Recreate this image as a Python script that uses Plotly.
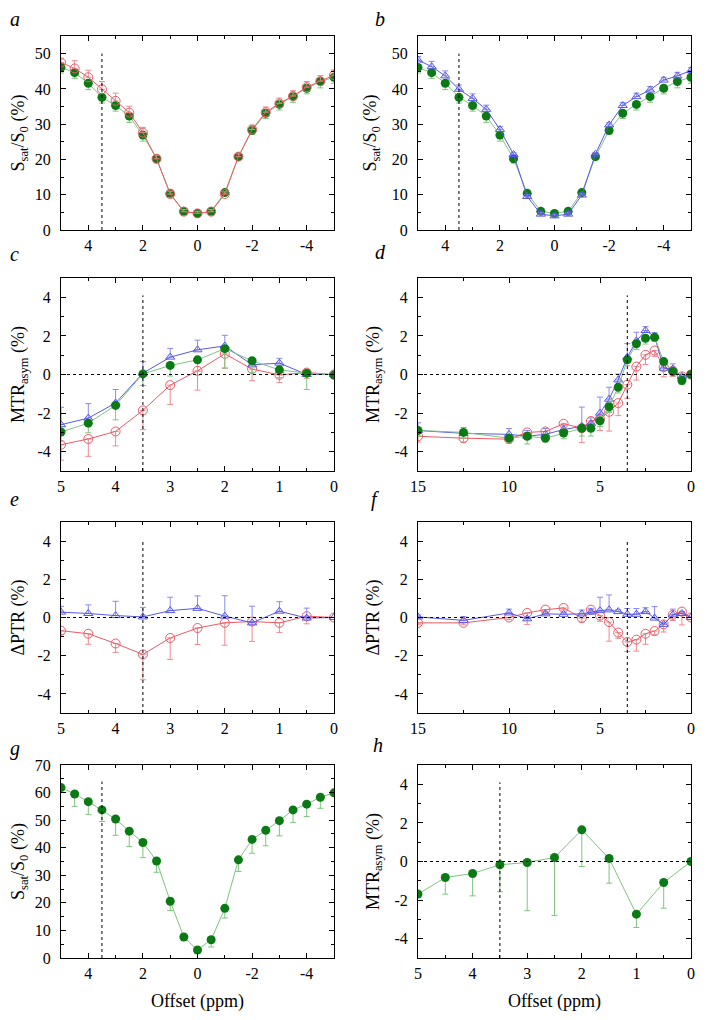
import plotly.graph_objects as go

# ---------------- data ----------------
OFFSET_Z = [5, 4.5, 4, 3.5, 3, 2.5, 2, 1.5, 1, 0.5, 0, -0.5, -1, -1.5, -2, -2.5, -3, -3.5, -4, -4.5, -5]
OFFSET_5 = [5, 4.5, 4, 3.5, 3, 2.5, 2, 1.5, 1, 0.5, 0]
OFFSET_15 = [15, 12.5, 10, 9, 8, 7, 6, 5.5, 5, 4.5, 4, 3.5, 3, 2.5, 2, 1.5, 1, 0.5, 0]

# panel a/b : Z-spectra (%)
z_green = [46.1, 44.6, 41.6, 37.6, 35.3, 32.3, 26.9, 20.2, 10.4, 5.3, 4.7, 5.3, 10.6, 20.8, 28.2, 33.1, 35.6, 37.8, 40.2, 42.1, 43.3]
z_green_err = [1.6, 1.6, 1.8, 1.6, 1.6, 1.8, 1.7, 1.2, 0.9, 0.8, 1.0, 1.0, 0.8, 0.8, 1.0, 1.5, 1.6, 1.6, 1.6, 1.8, 1.7]
z_red = [47.5, 45.8, 43.3, 39.9, 36.6, 33.3, 27.6, 20.2, 10.2, 5.2, 4.7, 5.2, 10.2, 20.8, 28.5, 33.4, 35.9, 38.0, 40.5, 42.2, 43.9]
z_red_err = [1.0, 2.2, 2.0, 2.2, 2.2, 1.8, 1.5, 1.0, 0.8, 0.6, 0.6, 0.6, 0.6, 0.8, 1.2, 1.5, 1.5, 1.5, 1.6, 1.6, 1.5]
z_blue = [48.2, 46.3, 43.7, 39.9, 37.3, 34.2, 28.5, 21.4, 9.5, 4.5, 4.0, 4.5, 9.9, 21.5, 29.8, 35.3, 37.8, 39.7, 42.5, 43.7, 45.2]
z_blue_err = [1.0, 1.5, 1.4, 1.2, 1.3, 1.2, 0.8, 0.5, 0.5, 0.5, 0.5, 0.5, 0.5, 0.5, 0.6, 0.8, 1.0, 1.0, 0.8, 1.0, 0.8]

# panel c : MTRasym 0-5 ppm
c_blue = [-2.6, -2.26, -1.48, 0.07, 0.9, 1.28, 1.48, 0.5, 0.59, 0.0, 0.0]
c_blue_err = [0.9, 0.75, 0.7, 0.6, 0.45, 0.5, 0.55, 0.3, 0.25, 0.1, 0.0]
c_green = [-2.98, -2.52, -1.6, 0.03, 0.47, 0.76, 1.34, 0.71, 0.24, 0.07, -0.03]
c_green_err = [0.5, 0.5, 0.75, 0.6, 0.55, 0.6, 1.0, 0.6, 0.4, 0.85, 0.0]
c_red = [-3.64, -3.34, -2.95, -1.86, -0.55, 0.19, 1.07, 0.28, -0.02, 0.1, 0.0]
c_red_err = [0.8, 0.9, 0.75, 1.0, 1.0, 1.0, 0.75, 0.6, 0.4, 0.3, 0.0]

# panel d : MTRasym 0-15 ppm
d_green = [-2.9, -3.0, -3.3, -3.2, -3.3, -3.03, -2.79, -2.79, -2.4, -1.67, -0.66, 0.76, 1.59, 1.88, 1.93, 0.67, 0.16, -0.31, 0.0]
d_green_err = [0.3, 0.3, 0.2, 0.4, 0.2, 0.3, 0.4, 0.4, 0.3, 0.3, 0.3, 0.3, 0.3, 0.3, 0.2, 0.2, 0.2, 0.2, 0.0]
d_blue = [-2.9, -3.05, -3.1, -3.2, -3.1, -2.85, -2.69, -2.55, -2.0, -1.28, -0.28, 0.9, 1.74, 2.28, 1.97, 0.33, 0.28, -0.1, 0.0]
d_blue_err = [0.4, 0.3, 0.3, 0.3, 0.3, 0.2, 1.0, 0.3, 0.83, 0.62, 0.3, 0.7, 0.45, 0.2, 0.2, 0.2, 0.27, 0.1, 0.0]
d_red = [-3.2, -3.3, -3.35, -3.0, -2.95, -2.55, -2.78, -2.41, -2.3, -1.93, -1.48, -0.53, 0.41, 1.02, 1.24, 0.38, 0.2, -0.1, 0.0]
d_red_err = [0.3, 0.2, 0.2, 0.3, 0.3, 0.3, 0.75, 0.5, 0.6, 1.0, 0.65, 0.7, 0.7, 0.5, 0.3, 0.5, 0.3, 0.3, 0.0]

# panel e : delta PTR 0-5 ppm
e_blue = [0.28, 0.21, 0.1, 0.03, 0.36, 0.48, 0.07, -0.28, 0.33, -0.03, 0.0]
e_blue_err = [0.3, 0.45, 0.75, 0.5, 0.7, 0.65, 1.07, 0.87, 0.5, 0.52, 0.0]
e_red = [-0.69, -0.85, -1.36, -1.93, -1.07, -0.55, -0.28, -0.21, -0.28, 0.07, 0.0]
e_red_err = [0.2, 0.55, 0.47, 1.33, 1.12, 0.86, 1.17, 1.04, 0.5, 0.4, 0.0]

# panel f : delta PTR 0-15 ppm
f_blue = [0.03, -0.15, 0.24, -0.07, 0.19, 0.17, 0.19, 0.28, 0.36, 0.4, 0.31, 0.17, 0.17, 0.31, -0.03, -0.36, 0.14, 0.21, 0.0]
f_blue_err = [0.1, 0.2, 0.2, 0.1, 0.1, 0.1, 0.2, 0.2, 0.7, 0.78, 0.1, 0.3, 0.3, 0.2, 0.6, 0.1, 0.3, 0.1, 0.0]
f_red = [-0.28, -0.28, 0.0, 0.24, 0.41, 0.5, -0.03, 0.41, 0.1, -0.24, -0.79, -1.28, -1.16, -0.85, -0.71, -0.36, 0.14, 0.31, 0.0]
f_red_err = [0.1, 0.1, 0.1, 0.6, 0.1, 0.1, 0.2, 0.2, 0.3, 1.0, 0.3, 0.5, 0.6, 0.55, 0.2, 0.4, 0.3, 0.7, 0.0]

# panel g : Z-spectrum (single group)
g_green = [61.8, 59.5, 56.7, 53.7, 50.4, 46.0, 41.9, 35.2, 20.6, 7.6, 2.9, 6.6, 18.0, 35.6, 43.0, 46.3, 49.8, 53.7, 55.8, 58.3, 59.9]
g_green_err = [0.0, 4.5, 4.6, 4.2, 5.9, 5.6, 5.5, 4.1, 3.4, 1.2, 0.5, 2.6, 3.5, 4.2, 5.0, 5.6, 5.5, 4.6, 4.5, 4.0, 0.0]

# panel h : MTRasym (single group)
h_green = [-1.69, -0.83, -0.62, -0.17, -0.05, 0.21, 1.64, 0.16, -2.73, -1.09, 0.0]
h_green_err = [0.0, 0.86, 1.16, 1.4, 2.5, 3.0, 1.9, 1.28, 0.69, 1.33, 0.0]

TICKS_Z = [4, 2, 0, -2, -4]
TICKS_Z_TEXT = ["4", "2", "0", "-2", "-4"]
TICKS_MTR = [4, 2, 0, -2, -4]
TICKS_MTR_TEXT = ["4", "2", "0", "-2", "-4"]
MARK_PPM = 3.5
PANEL_LETTERS = ["a", "b", "c", "d", "e", "f", "g", "h"]

# ---------------- styles ----------------
PAGE_W, PAGE_H = 706, 1020
BODY = 8  # default page body margin of the html page
W, H = PAGE_W - 2 * BODY, PAGE_H - 2 * BODY
FONT = "Liberation Serif, Times New Roman, serif"
RED = "#ec5a66"
BLUE = "#5858e8"
GREEN_M = "#0b7a14"
GREEN_L = "#80c480"
RED_L = "#f08a92"
BLUE_L = "#8a8aee"

# panel boxes in page pixels: (left, right, top, bottom)
BOX = [
    (61, 334, 36, 230), (418, 691, 36, 230),
    (61, 334, 278, 471), (418, 691, 278, 471),
    (61, 334, 522, 713), (418, 691, 522, 713),
    (61, 334, 765, 958), (418, 691, 765, 958),
]
# panel letter anchor (centre x, bottom y) in page pixels
LETTER_POS = [(15, 31), (380, 31), (15, 266), (380, 264), (15, 511), (375, 512), (15, 761), (378, 757)]


def fx(px):
    return (px - BODY) / W


def fy(py):
    return 1 - (py - BODY) / H


fig = go.Figure()


def add_series(i, x, y, err, kind, up):
    xa = "x" if i == 0 else f"x{i+1}"
    ya = "y" if i == 0 else f"y{i+1}"
    if kind == "green":
        marker = dict(symbol="circle", size=9, color=GREEN_M, line=dict(width=0))
        lc, ec = GREEN_L, GREEN_L
    elif kind == "red":
        marker = dict(symbol="circle-open", size=9, color=RED, line=dict(width=1))
        lc, ec = RED, RED_L
    else:
        marker = dict(symbol="triangle-up-open", size=8, color=BLUE, line=dict(width=1))
        lc, ec = BLUE, BLUE_L
    zeros = [0] * len(err)
    fig.add_trace(go.Scatter(
        x=x, y=y, mode="lines+markers", xaxis=xa, yaxis=ya,
        line=dict(color=lc, width=1), marker=marker, showlegend=False,
        error_y=dict(type="data", symmetric=False,
                     array=err if up else zeros,
                     arrayminus=zeros if up else err,
                     color=ec, thickness=1, width=3),
    ))


# a
add_series(0, OFFSET_Z, z_green, z_green_err, "green", False)
add_series(0, OFFSET_Z, z_red, z_red_err, "red", True)
# b
add_series(1, OFFSET_Z, z_green, z_green_err, "green", False)
add_series(1, OFFSET_Z, z_blue, z_blue_err, "blue", True)
# c
add_series(2, OFFSET_5, c_red, c_red_err, "red", False)
add_series(2, OFFSET_5, c_blue, c_blue_err, "blue", True)
add_series(2, OFFSET_5, c_green, c_green_err, "green", False)
# d
add_series(3, OFFSET_15, d_red, d_red_err, "red", False)
add_series(3, OFFSET_15, d_blue, d_blue_err, "blue", True)
add_series(3, OFFSET_15, d_green, d_green_err, "green", False)
# e
add_series(4, OFFSET_5, e_red, e_red_err, "red", False)
add_series(4, OFFSET_5, e_blue, e_blue_err, "blue", True)
# f
add_series(5, OFFSET_15, f_red, f_red_err, "red", False)
add_series(5, OFFSET_15, f_blue, f_blue_err, "blue", True)
# g
add_series(6, OFFSET_Z, g_green, g_green_err, "green", False)
# h
add_series(7, OFFSET_5, h_green, h_green_err, "green", False)

tickfont = dict(family=FONT, size=16, color="black")
titlefont = dict(family=FONT, size=18, color="black")

YT_Z = "S<sub>sat</sub>/S<sub>0</sub> (%)"
YT_MTR = "MTR<sub>asym</sub> (%)"
YT_PTR = "ΔPTR (%)"

xcfg = [
    dict(range=[5, -5], tickvals=TICKS_Z, ticktext=TICKS_Z_TEXT, minor_dtick=1),
    dict(range=[5, -5], tickvals=TICKS_Z, ticktext=TICKS_Z_TEXT, minor_dtick=1),
    dict(range=[5, 0], dtick=1, minor_dtick=0.5),
    dict(range=[15, 0], dtick=5, minor_dtick=2.5),
    dict(range=[5, 0], dtick=1, minor_dtick=0.5),
    dict(range=[15, 0], dtick=5, minor_dtick=2.5),
    dict(range=[5, -5], tickvals=TICKS_Z, ticktext=TICKS_Z_TEXT, minor_dtick=1),
    dict(range=[5, 0], dtick=1, minor_dtick=0.5),
]
ycfg = [
    dict(range=[0, 55], dtick=10, minor_dtick=5, title=YT_Z),
    dict(range=[0, 55], dtick=10, minor_dtick=5, title=YT_Z),
    dict(range=[-5, 5], tickvals=TICKS_MTR, ticktext=TICKS_MTR_TEXT, minor_dtick=1, title=YT_MTR),
    dict(range=[-5, 5], tickvals=TICKS_MTR, ticktext=TICKS_MTR_TEXT, minor_dtick=1, title=YT_MTR),
    dict(range=[-5, 5], tickvals=TICKS_MTR, ticktext=TICKS_MTR_TEXT, minor_dtick=1, title=YT_PTR),
    dict(range=[-5, 5], tickvals=TICKS_MTR, ticktext=TICKS_MTR_TEXT, minor_dtick=1, title=YT_PTR),
    dict(range=[0, 70], dtick=10, minor_dtick=5, title=YT_Z),
    dict(range=[-5, 5], tickvals=TICKS_MTR, ticktext=TICKS_MTR_TEXT, minor_dtick=1, title=YT_MTR),
]

layout = dict(
    width=W, height=H, paper_bgcolor="white", plot_bgcolor="white",
    margin=dict(l=0, r=0, t=0, b=0, autoexpand=False), showlegend=False,
    font=dict(family=FONT, color="black"),
)

for i, (l, r, t, b) in enumerate(BOX):
    xname = "xaxis" if i == 0 else f"xaxis{i+1}"
    yname = "yaxis" if i == 0 else f"yaxis{i+1}"
    xa_ref = "x" if i == 0 else f"x{i+1}"
    ya_ref = "y" if i == 0 else f"y{i+1}"
    xc = xcfg[i]
    yc = ycfg[i]
    xax = dict(
        domain=[fx(l), fx(r)], anchor=ya_ref, range=xc["range"], automargin=False,
        showline=True, linecolor="black", linewidth=1, mirror="allticks",
        ticks="inside", ticklen=5, tickwidth=1, tickcolor="black",
        minor=dict(ticks="inside", ticklen=3, dtick=xc["minor_dtick"], tickcolor="black", showgrid=False),
        showgrid=False, zeroline=False, tickfont=tickfont, ticklabelstandoff=1,
    )
    if "tickvals" in xc:
        xax.update(tickmode="array", tickvals=xc["tickvals"], ticktext=xc["ticktext"])
    else:
        xax.update(dtick=xc["dtick"], tick0=0)
    if i >= 6:
        xax["title"] = dict(text="Offset (ppm)", font=titlefont, standoff=16)
    yax = dict(
        domain=[fy(b), fy(t)], anchor=xa_ref, range=yc["range"], automargin=False,
        showline=True, linecolor="black", linewidth=1, mirror="allticks",
        ticks="inside", ticklen=5, tickwidth=1, tickcolor="black",
        minor=dict(ticks="inside", ticklen=3, dtick=yc["minor_dtick"], tickcolor="black", showgrid=False),
        showgrid=False, zeroline=False, tickfont=tickfont, ticklabelstandoff=6,
        title=dict(text=yc["title"], font=titlefont, standoff=10),
    )
    if "tickvals" in yc:
        yax.update(tickmode="array", tickvals=yc["tickvals"], ticktext=yc["ticktext"])
    else:
        yax.update(dtick=yc["dtick"], tick0=0)
    layout[xname] = xax
    layout[yname] = yax

fig.update_layout(**layout)

# reference lines
VLINE_TOP = [50, 50, 4.1, 4.1, 4.1, 4.1, 64, 4.1]
for i in range(8):
    xa_ref = "x" if i == 0 else f"x{i+1}"
    ya_ref = "y" if i == 0 else f"y{i+1}"
    y_lo = ycfg[i]["range"][0]
    fig.add_shape(type="line", xref=xa_ref, yref=ya_ref, x0=MARK_PPM, x1=MARK_PPM,
                  y0=y_lo, y1=VLINE_TOP[i], line=dict(color="black", width=1, dash="dot"))
    if i not in (0, 1, 6):
        fig.add_shape(type="line", xref=f"{xa_ref} domain", yref=ya_ref, x0=0, x1=1,
                      y0=0, y1=0, line=dict(color="black", width=1, dash="dot"))

# panel letters
for i, (px, py) in enumerate(LETTER_POS):
    fig.add_annotation(
        text=f"<i>{PANEL_LETTERS[i]}</i>", xref="paper", yref="paper",
        x=fx(px), y=fy(py), xanchor="center", yanchor="bottom",
        showarrow=False, font=dict(family=FONT, size=20, color="black"),
        borderpad=0,
    )

fig.write_html("out.html")
